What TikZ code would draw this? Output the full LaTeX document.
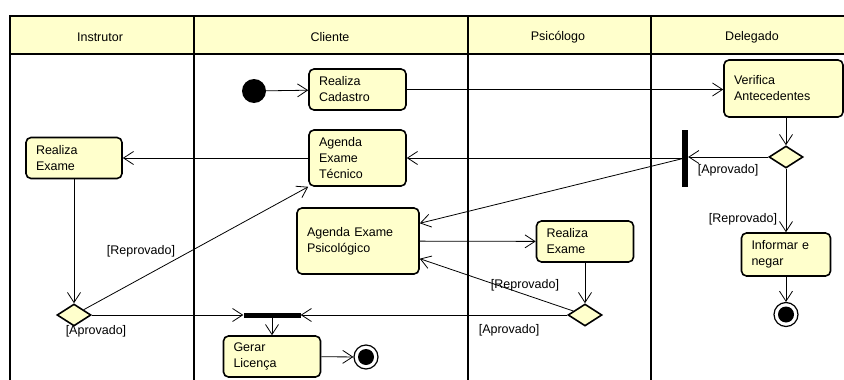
\documentclass[tikz,border=0pt]{standalone}
\usepackage{fontspec}
\setmainfont{Liberation Sans}
\usepackage{xcolor}
\usetikzlibrary{arrows.meta,shapes.geometric}
\definecolor{amarelo}{RGB}{255,255,204}

\begin{document}
\begin{tikzpicture}[x=1pt,y=-1pt,>={Straight Barb[length=10pt,width=13pt]},
    font=\fontsize{12.5}{16}\selectfont,
    raia/.style={line width=1.6pt},
    acao/.style={draw,line width=1.6pt,rounded corners=5pt,fill=amarelo,align=left,inner xsep=10pt,inner ysep=0pt},
    decisao/.style={diamond,draw,line width=1.6pt,fill=amarelo,inner sep=0pt,minimum width=34pt,minimum height=22pt},
    barra/.style={fill=black,inner sep=0pt},
    inicio/.style={circle,fill=black,inner sep=0pt,minimum size=24pt},
    fim/.style={circle,draw,line width=1.2pt,fill=white,inner sep=0pt,minimum size=24pt,
      path picture={\fill[black] (path picture bounding box.center) circle (8pt);}},
    fluxo/.style={->,line width=0.8pt}]
    \useasboundingbox (0,0) rectangle (844,380);
    \fill[amarelo] (10,16) rectangle (850,54);
    \draw[raia] (850,16) -- (10,16) -- (10,385);
    \draw[raia] (10,54) -- (850,54);
    \foreach \x in {194,468,651} \draw[raia] (\x,16) -- (\x,385);
    \node (instrutor) at (100,37) {Instrutor};
    \node (cliente) at (330,37) {Cliente};
    \node (psicologo) at (558,37) {Psicólogo};
    \node (delegado) at (752,37) {Delegado};

    \node[inicio] (inicio) at (254,91) {};
    \node[acao,text width=77pt,minimum height=41pt] (cadastro) at (357.5,89.5) {Realiza\\Cadastro};
    \node[acao,text width=77pt,minimum height=56pt] (tecnico) at (357.5,158) {Agenda\\Exame\\Técnico};
    \node[acao,text width=76pt,minimum height=41pt] (exameInst) at (74,158) {Realiza\\Exame};
    \node[acao,text width=99pt,minimum height=57pt] (verifica) at (783.5,88.5) {Verifica\\Antecedentes};
    \node[decisao] (decDel) at (786,157) {};
    \node[barra,minimum width=6pt,minimum height=57pt] (fork) at (685,158) {};
    \node[acao,text width=102pt,minimum height=66pt] (psico) at (358,241) {Agenda Exame\\Psicológico};
    \node[acao,text width=77pt,minimum height=41pt] (examePsi) at (585,241.5) {Realiza\\Exame};
    \node[decisao] (decPsi) at (585,315) {};
    \node[decisao] (decInst) at (74,315) {};
    \node[barra,minimum width=57pt,minimum height=5pt] (join) at (272,315) {};
    \node[acao,text width=77pt,minimum height=41pt] (gerar) at (272,356.5) {Gerar\\Licença};
    \node[fim] (fimCli) at (366,357) {};
    \node[acao,text width=69pt,minimum height=43pt] (informar) at (786,254.5) {Informar e\\negar};
    \node[fim] (fimDel) at (786,314.5) {};

    \draw[fluxo] (inicio) -- (cadastro);
    \draw[fluxo] (cadastro.east) -- (cadastro.east -| verifica.west);
    \draw[fluxo] (decDel |- verifica.south) -- (decDel);
    \draw[fluxo] (decDel) -- (decDel -| fork.east);
    \draw[fluxo] (fork) -- (tecnico);
    \draw[fluxo] (fork) -- (psico.16);
    \draw[fluxo] (tecnico) -- (exameInst);
    \draw[fluxo] (exameInst) -- (decInst);
    \draw[fluxo] (decInst) -- (tecnico.south west);
    \draw[fluxo] (decInst) -- (join);
    \draw[fluxo] (psico) -- (examePsi);
    \draw[fluxo] (examePsi) -- (decPsi);
    \draw[fluxo] (decPsi) -- (psico.-16);
    \draw[fluxo] (decPsi) -- (join);
    \draw[fluxo] (join) -- (gerar);
    \draw[fluxo] (gerar) -- (fimCli);
    \draw[fluxo] (decDel) -- (informar);
    \draw[fluxo] (informar) -- (fimDel);

    \node (gInstR) at (141,251) {[Reprovado]};
    \node (gInstA) at (96,331) {[Aprovado]};
    \node (gDelA) at (728,170) {[Aprovado]};
    \node (gDelR) at (743,219) {[Reprovado]};
    \node (gPsiR) at (525,285) {[Reprovado]};
    \node (gPsiA) at (509,330) {[Aprovado]};
\end{tikzpicture}
\end{document}
